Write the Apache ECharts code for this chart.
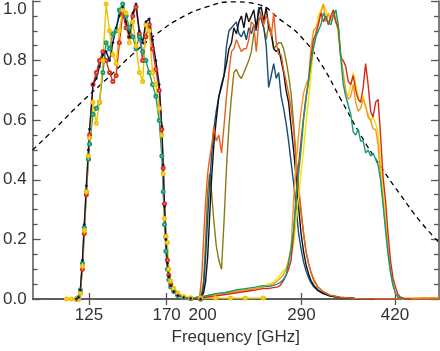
<!DOCTYPE html>
<html>
<head>
<meta charset="utf-8">
<script src="https://cdn.jsdelivr.net/npm/echarts@6/dist/echarts.min.js"></script>
<style>
  html,body{margin:0;padding:0;background:#fff;}
  #chart{width:440px;height:351px;}
</style>
</head>
<body>
<div id="chart"></div>
<script>
// frequency grids (GHz) for each band
var band1Freq = [114.3, 116.6, 118.9, 119.9, 120.8, 121.8, 122.7, 123.7, 124.7, 125.3, 127.0, 128.7, 130.3, 132.1, 133.8, 135.6, 137.4, 139.2, 141.0, 142.9, 144.8, 146.7, 148.7, 150.6, 152.6, 154.6, 156.6, 158.7, 160.8, 162.9, 165.1, 166.8, 167.7, 168.6, 169.5, 170.5, 171.5, 172.8, 174.9, 177.7, 181.9, 187.0, 194.5, 206.3, 218.9, 232.2, 249.3];
var band2Freq = [191.5, 193.8, 195.3, 196.8, 198.4, 200.0, 201.5, 203.1, 205.0, 206.9, 209.1, 211.3, 213.4, 215.5, 217.6, 219.8, 221.9, 224.1, 226.4, 228.6, 230.9, 233.1, 235.4, 237.8, 240.1, 242.5, 244.9, 247.3, 249.8, 252.2, 254.7, 257.3, 259.8, 262.4, 265.0, 267.6, 270.2, 272.9, 275.6, 278.3, 281.1, 283.9, 286.7, 289.5, 292.4, 295.3, 298.2, 301.1, 304.7, 309.5, 315.7, 324.5, 337.6, 358.1, 387.4, 427.5, 500];
var band3Freq = [181.9, 190.7, 198.4, 206.3, 214.6, 223.3, 232.2, 241.5, 248.3, 254.2, 259.3, 263.4, 266.5, 269.7, 272.9, 275.6, 278.3, 281.1, 283.9, 286.7, 289.5, 292.4, 295.3, 298.2, 301.1, 304.1, 307.1, 310.1, 313.2, 316.3, 319.4, 322.6, 325.8, 329.0, 332.3, 335.6, 338.9, 342.2, 345.6, 349.0, 352.5, 356.0, 359.5, 363.0, 366.6, 370.3, 373.9, 377.6, 381.4, 385.1, 389.0, 392.8, 396.7, 400.6, 404.6, 408.6, 412.6, 416.7, 420.8, 425.0, 429.2, 436.0, 448.2, 471.7, 500];

// band 1 (~125-170 GHz)
var b1Navy = [null, null, 0.0, 0.005, 0.03, 0.13, 0.25, 0.38, 0.5,
  0.57, 0.72, 0.74, 0.78, 0.82, 0.83, 0.80, 0.86, 0.91, 0.95, 0.98, 0.93, 0.88, 0.96, 0.99, 0.90, 0.86, 0.93, 0.94, 0.87, 0.80, 0.72,
  0.58, 0.45, 0.31, 0.2, 0.12, 0.075, 0.045, 0.025, 0.012, 0.005, 0.002, 0.0, null, null, null, null];
var b1Red = [null, null, 0.0, 0.0, 0.02, 0.1, 0.22, 0.35, 0.47,
  0.55, 0.72, 0.76, 0.80, 0.83, 0.80, 0.76, 0.73, 0.75, 0.86, 0.96, 0.91, 0.88, 0.95, 0.98, 0.89, 0.80, 0.88, 0.92, 0.84, 0.77, 0.70,
  0.57, 0.44, 0.32, 0.21, 0.13, 0.08, 0.05, 0.028, 0.014, 0.006, 0.002, 0.0, null, null, null, null];
var b1Green = [null, null, 0.0, 0.005, 0.03, 0.12, 0.24, 0.36, 0.47,
  0.52, 0.62, 0.64, 0.66, 0.76, 0.86, 0.84, 0.89, 0.90, 0.97, 0.99, 0.95, 0.91, 0.88, 0.84, 0.88, 0.83, 0.80, 0.76, 0.72, 0.68, 0.60,
  0.48, 0.36, 0.25, 0.16, 0.1, 0.065, 0.04, 0.025, 0.012, 0.005, 0.002, 0.0, null, null, null, null];
var b1Yellow = [0.0, 0.0, 0.0, 0.0, 0.02, 0.11, 0.23, 0.36, 0.48,
  0.54, 0.66, 0.59, 0.66, 0.80, 0.99, 0.90, 0.82, 0.79, 0.90, 0.97, 0.96, 0.86, 0.93, 0.85, 0.76, 0.73, 0.92, 0.90, 0.76, 0.72, 0.64,
  0.55, 0.42, 0.27, 0.21, 0.19, 0.1, 0.06, 0.035, 0.02, 0.008, 0.004, 0.003, 0.003, 0.003, 0.003, 0.003];

// band 2 (~200-290 GHz)
var b2Blue = [0, 0.003, 0.01, 0.04, 0.14, 0.27, 0.38, 0.48, 0.57, 0.63, 0.68, 0.71, 0.75, 0.85, 0.90, 0.91, 0.92, 0.93, 0.89, 0.88,
  0.90, 0.87, 0.91, 0.89, 0.92, 0.90, 0.98, 0.94, 0.91, 0.85, 0.71, 0.75, 0.79, 0.74, 0.76, 0.68, 0.64, 0.59, 0.53, 0.46,
  0.39, 0.31, 0.22, 0.17, 0.125, 0.095, 0.072, 0.055, 0.04, 0.028, 0.018, 0.01, 0.005, 0.002, 0, null, null];
var b2Black = [0, 0.002, 0.008, 0.02, 0.06, 0.14, 0.27, 0.4, 0.52, 0.6, 0.68, 0.72, 0.75, 0.79, 0.84, 0.86, 0.91, 0.89, 0.93, 0.95,
  0.91, 0.96, 0.93, 0.95, 0.97, 0.91, 0.97, 0.98, 0.93, 0.98, 0.91, 0.89, 0.84, 0.83, 0.84, 0.80, 0.76, 0.70, 0.66, 0.58,
  0.50, 0.41, 0.31, 0.22, 0.16, 0.115, 0.085, 0.062, 0.045, 0.03, 0.02, 0.011, 0.005, 0.002, 0, null, null];
var b2Orange = [0, 0.01, 0.07, 0.2, 0.33, 0.42, 0.47, 0.51, 0.58, 0.53, 0.55, 0.49, 0.58, 0.68, 0.76, 0.83, 0.84, 0.87, 0.85, 0.83,
  0.84, 0.84, 0.87, 0.93, 0.92, 0.83, 0.93, 0.96, 0.92, 0.95, 0.93, 0.88, 0.96, 0.86, 0.82, 0.82, 0.77, 0.73, 0.69, 0.64,
  0.57, 0.47, 0.38, 0.3, 0.22, 0.16, 0.12, 0.09, 0.065, 0.04, 0.025, 0.013, 0.006, 0.002, 0, 0, 0];
var b2Olive = [0, 0.005, 0.02, 0.06, 0.2, 0.36, 0.42, 0.36, 0.26, 0.18, 0.13, 0.1, 0.26, 0.44, 0.58, 0.68, 0.76, 0.77, 0.75, 0.74,
  0.76, 0.78, 0.80, 0.83, 0.89, 0.92, 0.94, 0.94, 0.91, 0.87, 0.92, 0.90, 0.84, 0.85, 0.86, 0.86, 0.84, 0.80, 0.75, 0.69,
  0.59, 0.47, 0.37, 0.29, 0.22, 0.16, 0.12, 0.09, 0.06, 0.04, 0.025, 0.013, 0.006, 0.002, 0, null, null];

// band 3 (~290-420 GHz)
var b3Amber = [0.0, 0.005, 0.01, 0.015, 0.02, 0.025, 0.03, 0.035, 0.04, 0.045, 0.05, 0.06, 0.07, 0.08, 0.1, 0.13, 0.17, 0.33, 0.46, 0.55,
  0.63, 0.69, 0.72, 0.74, 0.84, 0.9, 0.91, 0.93, 0.96, 0.99, 0.93, 0.96, 0.93, 0.96, 0.93, 0.9, 0.82, 0.76, 0.7, 0.67,
  0.68, 0.72, 0.66, 0.63, 0.64, 0.67, 0.65, 0.61, 0.6, 0.57, 0.57, 0.52, 0.41, 0.32, 0.24, 0.16, 0.09, 0.05, 0.02, 0.008,
  0.004, 0.003, 0.003, 0.004, 0.004];
var b3Yellow = [0.0, 0.005, 0.01, 0.015, 0.02, 0.025, 0.03, 0.035, 0.04, 0.05, 0.055, 0.07, 0.08, 0.095, 0.1, 0.13, 0.15, 0.18, 0.27, 0.34,
  0.42, 0.5, 0.59, 0.67, 0.75, 0.84, 0.9, 0.95, 0.97, 0.99, 0.97, 0.92, 0.94, 0.97, 0.96, 0.88, 0.8, 0.74, 0.69, 0.68,
  0.72, 0.76, 0.72, 0.68, 0.66, 0.68, 0.64, 0.62, 0.6, 0.61, 0.59, 0.56, 0.46, 0.37, 0.27, 0.18, 0.1, 0.05, 0.02, 0.006,
  0.002, 0.0, null, null, null];
var b3Red = [0.0, 0.003, 0.006, 0.01, 0.015, 0.02, 0.025, 0.03, 0.035, 0.035, 0.038, 0.04, 0.045, 0.06, 0.08, 0.1, 0.13, 0.22, 0.35, 0.45,
  0.53, 0.61, 0.68, 0.73, 0.81, 0.87, 0.89, 0.92, 0.96, 0.93, 0.95, 0.92, 0.95, 0.97, 0.93, 0.91, 0.81, 0.80, 0.78, 0.73,
  0.72, 0.75, 0.70, 0.67, 0.66, 0.71, 0.79, 0.72, 0.63, 0.61, 0.66, 0.67, 0.55, 0.41, 0.33, 0.22, 0.13, 0.07, 0.04, 0.016,
  0.006, 0.001, 0, null, null];
var b3Green = [0.0, 0.005, 0.01, 0.018, 0.022, 0.03, 0.035, 0.04, 0.045, 0.042, 0.045, 0.05, 0.055, 0.065, 0.08, 0.12, 0.17, 0.23, 0.33, 0.42,
  0.5, 0.6, 0.67, 0.73, 0.79, 0.84, 0.88, 0.9, 0.92, 0.96, 0.94, 0.93, 0.92, 0.95, 0.97, 0.92, 0.81, 0.72, 0.68, 0.65,
  0.62, 0.56, 0.55, 0.57, 0.53, 0.53, 0.49, 0.5, 0.48, 0.49, 0.47, 0.45, 0.4, 0.32, 0.23, 0.15, 0.09, 0.045, 0.018, 0.006,
  0.002, 0, null, null, null];

// dashed reference curve
var dashFreq = [100, 110.3, 121.3, 134.4, 148.3, 163.6, 180.5, 199.2, 219.8, 242.5, 267.6, 289.5, 313.2, 338.9, 366.6, 396.7, 429.2, 464.3, 500];
var dashVal = [0.5, 0.58, 0.66, 0.74, 0.82, 0.89, 0.945, 0.98, 0.997, 0.99, 0.935, 0.88, 0.79, 0.67, 0.55, 0.445, 0.35, 0.26, 0.19];

var tickFreq = [125, 170, 290, 420];
var labelFreq = [125, 170, 200, 290, 420];

var axisColor = '#555';
var font = 'Liberation Sans, Arial, sans-serif';

function pairs(freq, vals) {
  var out = [];
  for (var i = 0; i < freq.length; i++) out.push([freq[i], vals[i]]);
  return out;
}

function band(freq, vals, color, marker) {
  var s = {
    type: 'line',
    data: pairs(freq, vals),
    lineStyle: { color: color, width: 1.4 },
    itemStyle: { color: color, borderColor: color },
    showSymbol: false,
    symbol: 'none',
    connectNulls: false
  };
  if (marker) {
    s.showSymbol = true;
    s.symbol = marker;
    s.symbolSize = marker == 'circle' ? 2 : 3;
    s.itemStyle.borderWidth = 0.9;
  }
  return s;
}

var myChart = echarts.init(document.getElementById('chart'), null, { renderer: 'canvas' });

function xAxisBase(pos) {
  return {
    type: 'log',
    logBase: 10,
    position: pos,
    min: 100,
    max: 500,
    axisLine: { show: true, lineStyle: { color: axisColor, width: 1.5 } },
    axisTick: { show: true, inside: true, length: 6, customValues: tickFreq, lineStyle: { color: axisColor, width: 1.3 } },
    minorTick: { show: false },
    splitLine: { show: false }
  };
}

var xBottom = xAxisBase('bottom');
xBottom.name = 'Frequency [GHz]';
xBottom.nameLocation = 'middle';
xBottom.nameGap = 30;
xBottom.nameTextStyle = { fontFamily: font, fontSize: 17, color: '#333' };
xBottom.axisLabel = {
  show: true, customValues: labelFreq, margin: 8,
  fontFamily: font, fontSize: 17, color: '#333',
  formatter: function (v) {
    var t = String(Math.round(v));
    // the 200 label sits a little left of its position in the original
    return t == '200' ? '{l|' + t + '}' : t;
  },
  rich: { l: { fontFamily: font, fontSize: 17, color: '#333', padding: [0, 10, 0, 0] } }
};
var xTop = xAxisBase('top');
xTop.axisLabel = { show: false };

function yAxisBase(pos) {
  return {
    type: 'value',
    position: pos,
    min: 0,
    max: 1,
    interval: 0.2,
    axisLine: { show: true, lineStyle: { color: axisColor, width: 1.5 } },
    axisTick: { show: true, inside: true, length: 8, lineStyle: { color: axisColor, width: 1.3 } },
    minorTick: { show: true, splitNumber: 4, length: 5, lineStyle: { color: axisColor, width: 1.3 } },
    splitLine: { show: false }
  };
}
var yLeft = yAxisBase('left');
yLeft.axisLabel = {
  show: true, margin: 6, fontFamily: font, fontSize: 17, color: '#333',
  verticalAlignMaxLabel: 'top',
  formatter: function (v) { return v.toFixed(1); }
};
var yRight = yAxisBase('right');
yRight.axisLabel = { show: false };

var option = {
  backgroundColor: '#fff',
  animation: false,
  grid: { left: 31, right: 1, top: 1, bottom: 49, containLabel: false },
  xAxis: [xBottom, xTop],
  yAxis: [yLeft, yRight],
  series: [
    {
      type: 'line',
      data: pairs(dashFreq, dashVal),
      smooth: true,
      symbol: 'none',
      lineStyle: { color: '#000', width: 1.3, type: [5, 4] }
    },
    band(band1Freq, b1Red, '#d9321f', 'emptyCircle'),
    band(band1Freq, b1Green, '#1b9a72', 'emptyCircle'),
    band(band1Freq, b1Yellow, '#f2c200', 'emptyCircle'),
    band(band1Freq, b1Navy, '#14143f', 'circle'),
    band(band2Freq, b2Olive, '#8a7a16'),
    band(band2Freq, b2Blue, '#1a4a78'),
    band(band2Freq, b2Black, '#111111'),
    band(band2Freq, b2Orange, '#e8601c'),
    band(band3Freq, b3Yellow, '#f7e000'),
    band(band3Freq, b3Amber, '#f09a1c'),
    band(band3Freq, b3Red, '#d62a1c'),
    band(band3Freq, b3Green, '#15987a')
  ]
};
myChart.setOption(option);
</script>
</body>
</html>
